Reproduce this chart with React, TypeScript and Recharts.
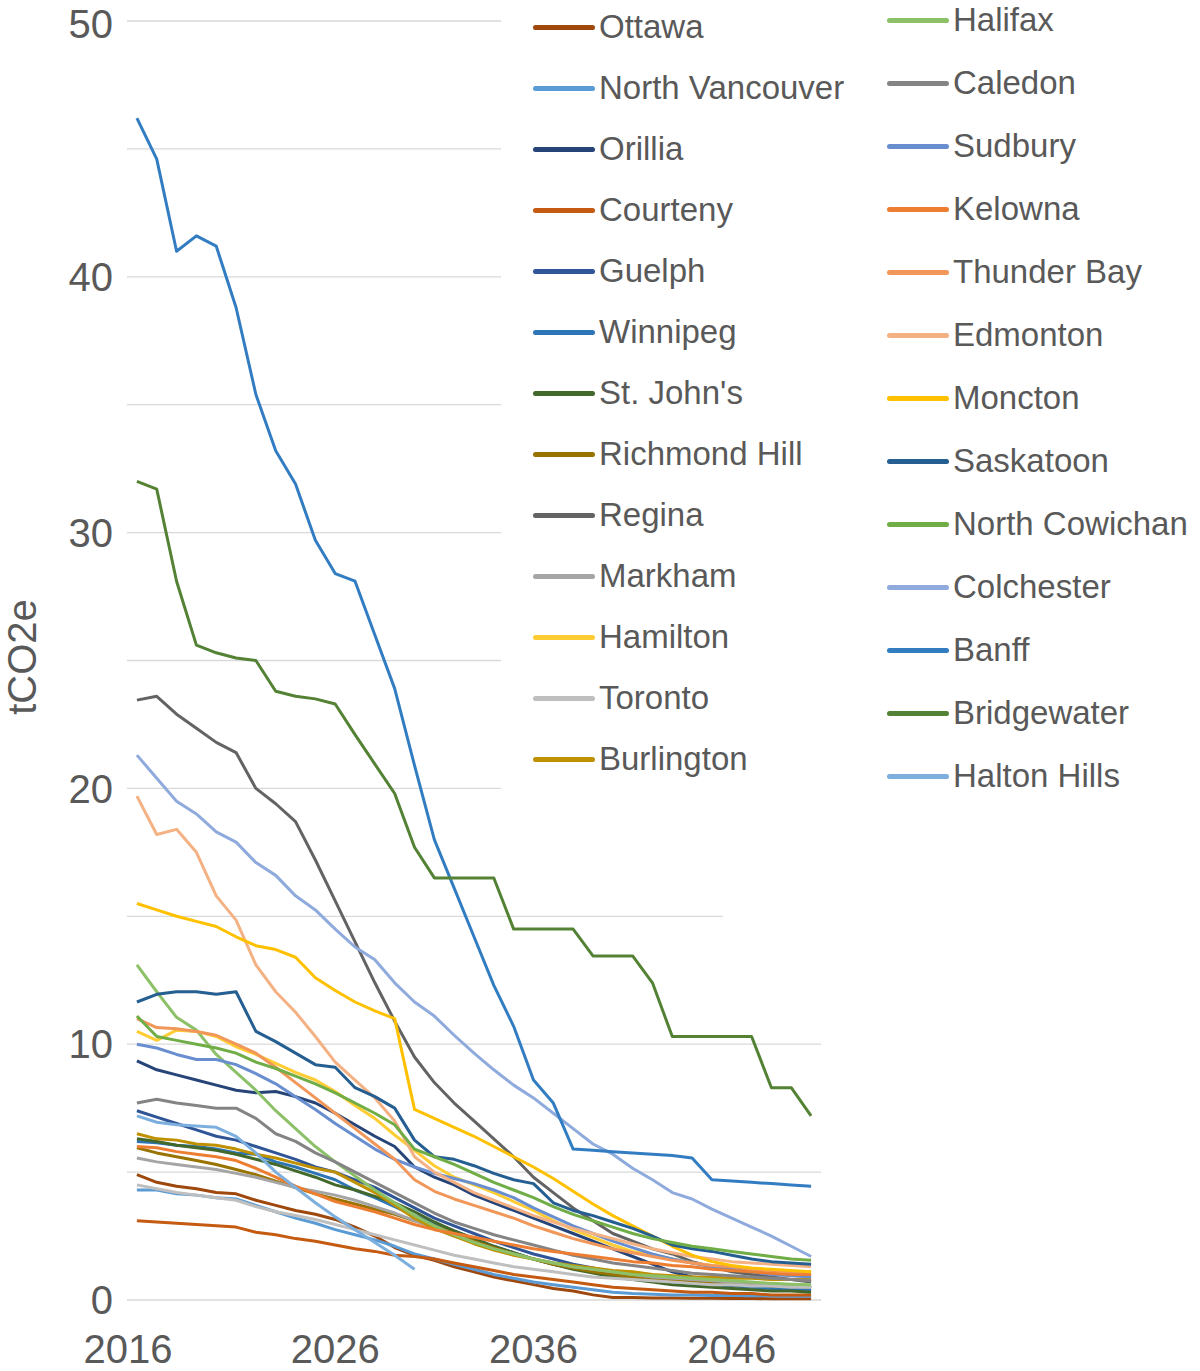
import React from "react";
import { LineChart, Line, XAxis, YAxis, CartesianGrid } from "recharts";

// per-capita emissions, tCO2e, 2016-2050
const years = [
  2016, 2017, 2018, 2019, 2020, 2021, 2022, 2023, 2024, 2025, 2026, 2027, 2028, 2029, 2030, 2031, 2032, 2033,
  2034, 2035, 2036, 2037, 2038, 2039, 2040, 2041, 2042, 2043, 2044, 2045, 2046, 2047, 2048, 2049, 2050,
];

const yTicks = [0, 5, 10, 15, 20, 25, 30, 35, 40, 45, 50];
const xTicks = [2016, 2026, 2036, 2046];

const ottawa = [4.9, 4.6, 4.45, 4.35, 4.2, 4.15, 3.9, 3.7, 3.5, 3.35, 3.15, 2.85, 2.5, 2.05, 1.75, 1.55, 1.3, 1.1, 0.9, 0.75, 0.6, 0.45, 0.35, 0.2, 0.1, 0.1, 0.08, 0.08, 0.07, 0.07, 0.06, 0.06, 0.05, 0.05, 0.05];
const northVancouver = [4.3, 4.3, 4.15, 4.1, 4.0, 3.95, 3.7, 3.45, 3.2, 3.0, 2.75, 2.55, 2.35, 2.1, 1.8, 1.6, 1.4, 1.2, 1.0, 0.85, 0.7, 0.6, 0.5, 0.4, 0.3, 0.25, 0.22, 0.2, 0.2, 0.18, 0.18, 0.17, 0.16, 0.15, 0.15];
const orillia = [9.35, 9.0, 8.8, 8.6, 8.4, 8.2, 8.1, 8.15, 7.95, 7.7, 7.3, 6.85, 6.4, 6.0, 5.2, 4.8, 4.5, 4.1, 3.8, 3.5, 3.2, 2.9, 2.6, 2.3, 2.0, 1.7, 1.4, 1.1, 0.9, 0.8, 0.7, 0.65, 0.6, 0.55, 0.5];
const courteny = [3.1, 3.05, 3.0, 2.95, 2.9, 2.85, 2.65, 2.55, 2.4, 2.3, 2.15, 2.0, 1.9, 1.75, 1.7, 1.6, 1.45, 1.3, 1.15, 1.0, 0.9, 0.8, 0.7, 0.6, 0.5, 0.45, 0.4, 0.35, 0.3, 0.3, 0.25, 0.25, 0.2, 0.2, 0.2];
const guelph = [7.4, 7.15, 6.9, 6.65, 6.4, 6.25, 6.0, 5.75, 5.5, 5.2, 5.0, 4.7, 4.4, 4.0, 3.6, 3.2, 2.9, 2.6, 2.3, 2.05, 1.8, 1.6, 1.4, 1.25, 1.1, 1.0, 0.9, 0.8, 0.75, 0.7, 0.65, 0.6, 0.55, 0.5, 0.5];
const winnipeg = [6.2, 6.15, 6.05, 6.0, 5.9, 5.75, 5.7, 5.4, 5.2, 4.95, 4.7, 4.3, 4.0, 3.65, 3.3, 3.0, 2.7, 2.4, 2.1, 1.85, 1.6, 1.4, 1.25, 1.1, 1.0, 0.9, 0.8, 0.7, 0.65, 0.6, 0.55, 0.5, 0.45, 0.4, 0.4];
const stJohns = [6.3, 6.2, 6.05, 5.95, 5.85, 5.7, 5.5, 5.3, 5.05, 4.8, 4.5, 4.3, 4.05, 3.8, 3.45, 3.05, 2.7, 2.4, 2.1, 1.85, 1.6, 1.4, 1.2, 1.05, 0.9, 0.8, 0.7, 0.6, 0.55, 0.5, 0.45, 0.4, 0.35, 0.35, 0.3];
const richmondHill = [5.95, 5.75, 5.6, 5.45, 5.3, 5.1, 4.9, 4.65, 4.4, 4.15, 3.95, 3.75, 3.55, 3.35, 3.1, 2.9, 2.6, 2.3, 2.05, 1.8, 1.6, 1.4, 1.25, 1.1, 1.0, 0.9, 0.8, 0.75, 0.7, 0.65, 0.6, 0.6, 0.55, 0.55, 0.5];
const regina = [23.45, 23.6, 22.9, 22.35, 21.8, 21.4, 20.0, 19.4, 18.7, 17.2, 15.6, 14.0, 12.4, 10.9, 9.5, 8.5, 7.7, 7.0, 6.3, 5.6, 4.8, 4.2, 3.6, 3.1, 2.6, 2.3, 2.0, 1.8, 1.5, 1.3, 1.1, 1.0, 0.9, 0.8, 0.7];
const markham = [5.55, 5.4, 5.3, 5.2, 5.1, 4.95, 4.8, 4.6, 4.4, 4.25, 4.1, 3.9, 3.65, 3.4, 3.1, 2.8, 2.5, 2.25, 2.0, 1.8, 1.6, 1.45, 1.3, 1.2, 1.1, 1.0, 0.9, 0.85, 0.8, 0.75, 0.7, 0.65, 0.6, 0.55, 0.5];
const hamilton = [10.5, 10.15, 10.55, 10.5, 10.3, 9.9, 9.6, 9.25, 8.9, 8.6, 8.15, 7.6, 7.1, 6.45, 5.85, 5.25, 4.8, 4.5, 4.2, 3.85, 3.5, 3.1, 2.75, 2.45, 2.15, 1.9, 1.75, 1.6, 1.45, 1.35, 1.25, 1.2, 1.1, 1.05, 1.0];
const toronto = [4.5, 4.35, 4.2, 4.1, 4.0, 3.9, 3.65, 3.45, 3.3, 3.15, 2.95, 2.75, 2.55, 2.35, 2.15, 1.95, 1.75, 1.6, 1.45, 1.3, 1.2, 1.1, 1.0, 0.9, 0.85, 0.8, 0.75, 0.7, 0.65, 0.6, 0.6, 0.55, 0.55, 0.5, 0.5];
const burlington = [6.5, 6.3, 6.25, 6.1, 6.05, 5.9, 5.7, 5.55, 5.35, 5.15, 5.0, 4.6, 4.2, 3.7, 3.2, 2.8, 2.5, 2.2, 1.95, 1.75, 1.6, 1.45, 1.35, 1.25, 1.15, 1.1, 1.0, 0.95, 0.9, 0.9, 0.85, 0.85, 0.8, 0.8, 0.8];
const halifax = [13.1, 12.05, 11.05, 10.55, 9.6, 8.9, 8.2, 7.4, 6.7, 6.0, 5.4, 4.85, 4.3, 3.8, 3.3, 2.9, 2.55, 2.25, 2.0, 1.8, 1.6, 1.45, 1.3, 1.2, 1.1, 1.0, 0.95, 0.9, 0.85, 0.8, 0.75, 0.7, 0.65, 0.62, 0.6];
const caledon = [7.7, 7.85, 7.7, 7.6, 7.5, 7.5, 7.1, 6.5, 6.2, 5.75, 5.4, 5.0, 4.6, 4.2, 3.8, 3.4, 3.05, 2.8, 2.55, 2.35, 2.15, 1.95, 1.75, 1.6, 1.45, 1.35, 1.25, 1.15, 1.05, 1.0, 0.95, 0.9, 0.85, 0.8, 0.75];
const sudbury = [10.0, 9.85, 9.6, 9.4, 9.4, 9.2, 8.85, 8.45, 7.95, 7.45, 6.9, 6.4, 5.9, 5.5, 5.2, 4.95, 4.75, 4.55, 4.3, 4.0, 3.6, 3.25, 2.9, 2.6, 2.3, 2.05, 1.8, 1.6, 1.45, 1.3, 1.2, 1.1, 1.0, 0.95, 0.9];
const kelowna = [6.0, 5.95, 5.8, 5.7, 5.6, 5.45, 5.15, 4.8, 4.45, 4.15, 3.85, 3.65, 3.45, 3.2, 2.95, 2.75, 2.6, 2.45, 2.3, 2.15, 2.0, 1.9, 1.8, 1.7, 1.6, 1.5, 1.45, 1.35, 1.3, 1.2, 1.15, 1.1, 1.05, 1.0, 1.0];
const thunderBay = [11.0, 10.65, 10.6, 10.5, 10.35, 10.0, 9.65, 9.1, 8.5, 7.9, 7.3, 6.7, 6.1, 5.5, 4.7, 4.25, 3.95, 3.7, 3.45, 3.2, 2.9, 2.65, 2.4, 2.2, 2.0, 1.85, 1.7, 1.55, 1.45, 1.35, 1.3, 1.2, 1.15, 1.1, 1.1];
const edmonton = [19.7, 18.2, 18.4, 17.5, 15.8, 14.85, 13.1, 12.05, 11.25, 10.3, 9.3, 8.6, 7.9, 7.0, 5.6, 5.0, 4.6, 4.2, 3.9, 3.6, 3.3, 3.05, 2.8, 2.6, 2.4, 2.2, 2.0, 1.85, 1.7, 1.6, 1.5, 1.45, 1.4, 1.35, 1.3];
const moncton = [15.5, 15.25, 15.0, 14.8, 14.6, 14.2, 13.85, 13.7, 13.4, 12.6, 12.1, 11.65, 11.3, 11.0, 7.45, 7.1, 6.75, 6.4, 6.0, 5.6, 5.2, 4.75, 4.25, 3.75, 3.3, 2.9, 2.5, 2.1, 1.75, 1.5, 1.35, 1.25, 1.2, 1.15, 1.1];
const saskatoon = [11.65, 11.95, 12.05, 12.05, 11.95, 12.05, 10.5, 10.1, 9.65, 9.2, 9.1, 8.3, 7.95, 7.5, 6.25, 5.6, 5.5, 5.25, 4.95, 4.7, 4.55, 3.8, 3.5, 3.3, 3.05, 2.8, 2.5, 2.15, 2.0, 1.9, 1.75, 1.6, 1.5, 1.45, 1.4];
const northCowichan = [11.1, 10.3, 10.15, 10.0, 9.85, 9.65, 9.3, 9.05, 8.75, 8.45, 8.1, 7.7, 7.3, 6.85, 5.9, 5.6, 5.3, 4.95, 4.6, 4.3, 4.0, 3.65, 3.35, 3.1, 2.85, 2.6, 2.4, 2.25, 2.1, 2.0, 1.9, 1.8, 1.7, 1.6, 1.55];
const colchester = [21.3, 20.4, 19.5, 19.0, 18.3, 17.9, 17.1, 16.6, 15.8, 15.25, 14.5, 13.8, 13.3, 12.4, 11.65, 11.1, 10.35, 9.65, 9.0, 8.4, 7.9, 7.3, 6.7, 6.1, 5.7, 5.15, 4.7, 4.2, 3.95, 3.55, 3.2, 2.85, 2.5, 2.1, 1.7];
const banff = [46.2, 44.6, 41.0, 41.6, 41.2, 38.8, 35.4, 33.2, 31.9, 29.7, 28.4, 28.1, 26.0, 23.9, 20.9, 18.0, 16.1, 14.2, 12.3, 10.7, 8.6, 7.7, 5.9, 5.85, 5.8, 5.75, 5.7, 5.65, 5.55, 4.7, 4.65, 4.6, 4.55, 4.5, 4.45];
const bridgewater = [32.0, 31.7, 28.1, 25.6, 25.3, 25.1, 25.0, 23.8, 23.6, 23.5, 23.3, 22.1, 20.95, 19.8, 17.7, 16.5, 16.5, 16.5, 16.5, 14.5, 14.5, 14.5, 14.5, 13.45, 13.45, 13.45, 12.4, 10.3, 10.3, 10.3, 10.3, 10.3, 8.3, 8.3, 7.2];
const haltonHills = [7.2, 6.95, 6.85, 6.8, 6.75, 6.4, 5.75, 5.0, 4.4, 3.8, 3.25, 2.75, 2.25, 1.75, 1.2, null, null, null, null, null, null, null, null, null, null, null, null, null, null, null, null, null, null, null, null];

const seriesList = [
  { key: "ottawa", name: "Ottawa", color: "#9E480E", values: ottawa },
  { key: "northVancouver", name: "North Vancouver", color: "#5B9BD5", values: northVancouver },
  { key: "orillia", name: "Orillia", color: "#264478", values: orillia },
  { key: "courteny", name: "Courteny", color: "#C55A11", values: courteny },
  { key: "guelph", name: "Guelph", color: "#2F5597", values: guelph },
  { key: "winnipeg", name: "Winnipeg", color: "#2E75B6", values: winnipeg },
  { key: "stJohns", name: "St. John's", color: "#43682B", values: stJohns },
  { key: "richmondHill", name: "Richmond Hill", color: "#997300", values: richmondHill },
  { key: "regina", name: "Regina", color: "#636363", values: regina },
  { key: "markham", name: "Markham", color: "#A5A5A5", values: markham },
  { key: "hamilton", name: "Hamilton", color: "#FFCD33", values: hamilton },
  { key: "toronto", name: "Toronto", color: "#BFBFBF", values: toronto },
  { key: "burlington", name: "Burlington", color: "#BF9000", values: burlington },
  { key: "halifax", name: "Halifax", color: "#8CC168", values: halifax },
  { key: "caledon", name: "Caledon", color: "#848484", values: caledon },
  { key: "sudbury", name: "Sudbury", color: "#698ED0", values: sudbury },
  { key: "kelowna", name: "Kelowna", color: "#ED7D31", values: kelowna },
  { key: "thunderBay", name: "Thunder Bay", color: "#F1975A", values: thunderBay },
  { key: "edmonton", name: "Edmonton", color: "#F4B183", values: edmonton },
  { key: "moncton", name: "Moncton", color: "#FFC000", values: moncton },
  { key: "saskatoon", name: "Saskatoon", color: "#255E91", values: saskatoon },
  { key: "northCowichan", name: "North Cowichan", color: "#70AD47", values: northCowichan },
  { key: "colchester", name: "Colchester", color: "#8FAADC", values: colchester },
  { key: "banff", name: "Banff", color: "#327DC2", values: banff },
  { key: "bridgewater", name: "Bridgewater", color: "#548235", values: bridgewater },
  { key: "haltonHills", name: "Halton Hills", color: "#7CAFDD", values: haltonHills },
];

const chartData = years.map((year, i) => {
  const row: any = { year };
  seriesList.forEach((s) => {
    row[s.key] = s.values[i];
  });
  return row;
});

const FONT = "'Liberation Sans', Arial, Helvetica, sans-serif";
const TEXT = "#595959";

// first year label sits a bit left of its point, as in the original
function YearTick({ x, y, payload }: any) {
  const shift = payload.value === xTicks[0] ? -9 : 0;
  return (
    <text x={x + shift} y={y} dy={28} textAnchor="middle" fill={TEXT} fontSize={40} fontFamily={FONT}>
      {payload.value}
    </text>
  );
}

function LegendItem({ name, color, top, left }: { name: string; color: string; top: number; left: number }) {
  return (
    <div
      style={{
        position: "absolute",
        left,
        top: top - 20,
        height: 40,
        display: "flex",
        alignItems: "center",
        whiteSpace: "nowrap",
      }}
    >
      <div style={{ width: 62, height: 5, borderRadius: 3, background: color, marginRight: 4 }} />
      <span style={{ fontFamily: FONT, fontSize: 33, color: TEXT, lineHeight: "40px" }}>{name}</span>
    </div>
  );
}

export default function App() {
  const leftCol = seriesList.slice(0, 13);
  const rightCol = seriesList.slice(13);

  return (
    <div style={{ position: "relative", width: 1200, height: 1371, background: "#fff" }}>
      <style>{`body { margin: 0; }`}</style>
      <LineChart width={1200} height={1371} data={chartData} margin={{ top: 21, right: 379, bottom: 0, left: 0 }}>
        <CartesianGrid vertical={false} stroke="#d9d9d9" strokeWidth={1.3} />
        <XAxis
          dataKey="year"
          type="number"
          domain={[2015.5, 2050.5]}
          ticks={xTicks}
          height={71}
          axisLine={false}
          tickLine={false}
          tickSize={0}
          tickMargin={35}
          tick={<YearTick />}
        />
        <YAxis
          domain={[0, 50]}
          ticks={yTicks}
          width={127}
          axisLine={false}
          tickLine={false}
          tickSize={0}
          tickMargin={14}
          tickFormatter={(v: number) => (v % 10 === 0 ? String(v) : "")}
          tick={{ fill: TEXT, fontSize: 40, fontFamily: FONT }}
        />
        {seriesList.map((s) => (
          <Line
            key={s.key}
            dataKey={s.key}
            name={s.name}
            type="linear"
            stroke={s.color}
            strokeWidth={3}
            strokeLinejoin="round"
            dot={false}
            activeDot={false}
            isAnimationActive={false}
          />
        ))}
      </LineChart>

      {/* legend boxes sit on top of the plot and hide the gridlines */}
      <div style={{ position: "absolute", left: 501, top: 0, width: 222, height: 830, background: "#fff" }} />
      <div style={{ position: "absolute", left: 723, top: 0, width: 477, height: 940, background: "#fff" }} />
      {leftCol.map((s, i) => (
        <LegendItem key={s.key} name={s.name} color={s.color} left={533} top={27 + 61 * i} />
      ))}
      {rightCol.map((s, i) => (
        <LegendItem key={s.key} name={s.name} color={s.color} left={887} top={20 + 63 * i} />
      ))}

      <div
        style={{
          position: "absolute",
          left: 22,
          top: 657,
          transform: "translate(-50%, -50%) rotate(-90deg)",
          fontFamily: FONT,
          fontSize: 40,
          lineHeight: "40px",
          color: TEXT,
          whiteSpace: "nowrap",
        }}
      >
        tCO2e
      </div>
    </div>
  );
}
